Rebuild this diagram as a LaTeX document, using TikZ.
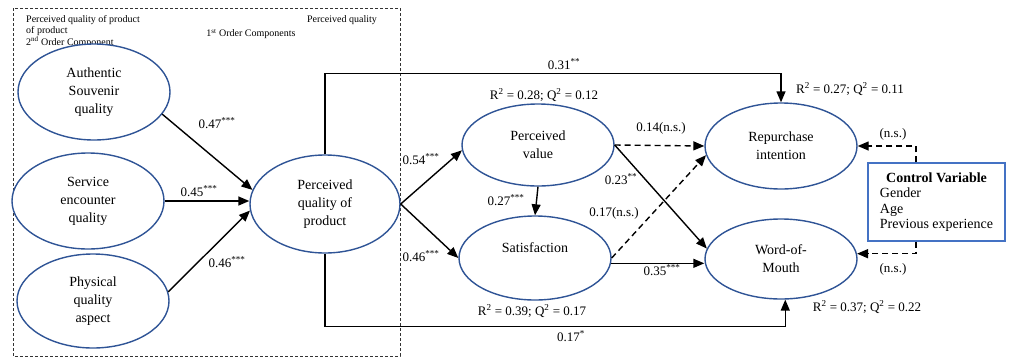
\documentclass[tikz,border=0pt]{standalone}
\usepackage{fontspec}
\setmainfont{Liberation Serif}
\usetikzlibrary{arrows.meta,shapes.geometric}
\definecolor{ellblue}{RGB}{47,84,150}
\definecolor{boxblue}{RGB}{68,114,196}
\begin{document}
\begin{tikzpicture}[x=1pt,y=-1pt,
  ell/.style={draw=ellblue, line width=1.4pt, ellipse, fill=white, inner sep=0pt,
    minimum width=152pt, align=center, font=\fontsize{14}{18}\selectfont},
  arr/.style={-{Triangle[length=11pt,width=9pt]}, line width=1.4pt},
  dsh/.style={arr, dash pattern=on 6pt off 4pt},
  lab/.style={font=\fontsize{13}{15}\selectfont, inner sep=0pt},
  small/.style={font=\fontsize{10}{11.5}\selectfont, inner sep=0pt, align=left}
]
\useasboundingbox (0,0) rectangle (1014,359);
% dashed frame
\draw[line width=0.6pt, dash pattern=on 3pt off 2pt, black!80] (13,8) rectangle (400,356);
\node[small, anchor=north west] (t1) at (26,15) {Perceived quality of product\\of product\\2\textsuperscript{nd} Order Component};
\node[small] (t2) at (251,34) {1\textsuperscript{st} Order Components};
\node[small] (t3) at (342,20) {Perceived quality};
% ellipses
\node[ell, minimum height=96pt] (auth) at (94,92) {Authentic\\Souvenir\\quality};
\node[ell, minimum height=96pt] (svc) at (88,201) {Service\\encounter\\quality};
\node[ell, minimum height=94pt] (phys) at (93,301) {Physical\\quality\\aspect};
\node[ell, minimum width=150pt, minimum height=98pt] (pqp) at (325,204) {Perceived\\quality of\\product};
\node[ell, minimum height=82pt] (pv) at (538,145) {Perceived\\value};
\node[ell, minimum height=84pt] (sat) at (535,258) {Satisfaction\\[2pt]\mbox{}};
\node[ell, minimum height=86pt] (rep) at (781,146) {Repurchase\\intention};
\node[ell, minimum height=80pt] (wom) at (781,259) {Word-of-\\Mouth};
% control box
\node[draw=boxblue, line width=1.2pt, minimum width=137pt, minimum height=78pt, inner sep=0pt,
  font=\fontsize{14}{16.5}\selectfont] (ctrl) at (936.5,202)
  {\begin{tabular}{@{}l@{}}\multicolumn{1}{@{}c@{}}{\textbf{Control Variable}}\\[-1pt]Gender\\[-1pt]Age\\[-1pt]Previous experience\end{tabular}};
\coordinate (cx) at (916,0);
% connectors
\draw[arr] (auth.-18) -- (pqp.169);
\draw[arr] (svc.east) -- (svc.east -| pqp.west);
\draw[arr] (phys.7) -- (pqp.-175);
\draw[arr] (pqp.north) -- ++(0,-81) -| (rep.north);
\draw[arr] (pqp.south) -- ++(0,73) -| (wom.-84);
\draw[arr] (pqp.east) -- (pv.184);
\draw[arr] (pqp.east) -- (sat.west);
\draw[arr] (pv.south) -- (sat.north);
\draw[dsh] (pv.east) -- (rep.west);
\draw[arr] (pv.east) -- (wom.172);
\draw[dsh] (sat.east) -- (rep.187);
\draw[arr] (sat.-4) -- (sat.-4 -| wom.west);
\draw[dsh] (cx |- ctrl.north) |- (rep.east);
\draw[dsh] (cx |- ctrl.south) |- (wom.4);
% labels
\node[lab] (l1) at (217,123) {0.47\textsuperscript{***}};
\node[lab] (l2) at (199,191) {0.45\textsuperscript{***}};
\node[lab] (l3) at (227,262) {0.46\textsuperscript{***}};
\node[lab] (l4) at (421,159) {0.54\textsuperscript{***}};
\node[lab] (l5) at (421,256) {0.46\textsuperscript{***}};
\node[lab] (l6) at (564,64) {0.31\textsuperscript{**}};
\node[lab] (l7) at (544,95) {R\textsuperscript{2} = 0.28; Q\textsuperscript{2} = 0.12};
\node[lab] (l8) at (661,128) {0.14(n.s.)};
\node[lab] (l9) at (850,89) {R\textsuperscript{2} = 0.27; Q\textsuperscript{2} = 0.11};
\node[lab] (l10) at (893,134) {(n.s.)};
\node[lab] (l11) at (621,179) {0.23\textsuperscript{**}};
\node[lab] (l12) at (506,200) {0.27\textsuperscript{***}};
\node[lab] (l13) at (614,213) {0.17(n.s.)};
\node[lab] (l14) at (662,270) {0.35\textsuperscript{***}};
\node[lab] (l15) at (532,311) {R\textsuperscript{2} = 0.39; Q\textsuperscript{2} = 0.17};
\node[lab] (l16) at (571,336) {0.17\textsuperscript{*}};
\node[lab] (l17) at (867,307) {R\textsuperscript{2} = 0.37; Q\textsuperscript{2} = 0.22};
\node[lab] (l18) at (893,269) {(n.s.)};
\end{tikzpicture}
\end{document}
